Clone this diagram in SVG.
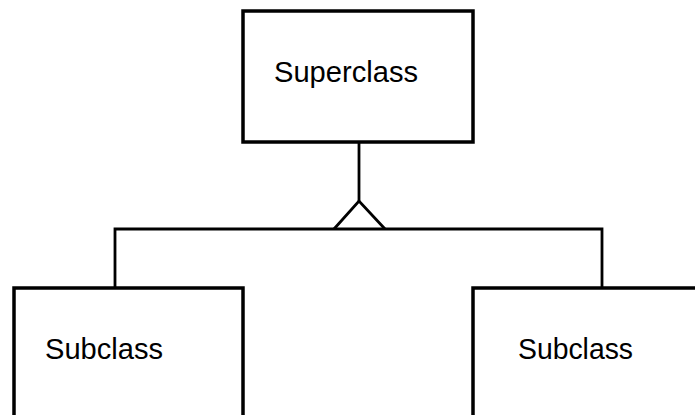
<svg xmlns="http://www.w3.org/2000/svg" width="695" height="415" viewBox="0 0 695 415">
<style>
.box{fill:#fff;stroke:#000;stroke-width:3.5}
.lbl{font-family:"Liberation Sans",Arial,sans-serif;font-size:29px;fill:#000}
.conn{fill:none;stroke:#000;stroke-width:2.8;stroke-linejoin:miter}
</style>
<rect width="695" height="415" fill="#fff"/>
<g id="superclass">
<rect class="box" x="243" y="11" width="230" height="131"/>
<text class="lbl" x="274" y="82" textLength="144" lengthAdjust="spacingAndGlyphs">Superclass</text>
</g>
<g id="subclass-left">
<rect class="box" x="14" y="288" width="229" height="150"/>
<text class="lbl" x="45" y="359" textLength="118" lengthAdjust="spacingAndGlyphs">Subclass</text>
</g>
<g id="subclass-right">
<rect class="box" x="473" y="288" width="240" height="150"/>
<text class="lbl" x="518" y="359" textLength="115" lengthAdjust="spacingAndGlyphs">Subclass</text>
</g>
<g id="connectors">
<line class="conn" x1="359" y1="142" x2="359" y2="201"/>
<polyline class="conn" points="334,229 359,201 385,229"/>
<polyline class="conn" points="115,288 115,229 602,229 602,288"/>
</g>
</svg>
